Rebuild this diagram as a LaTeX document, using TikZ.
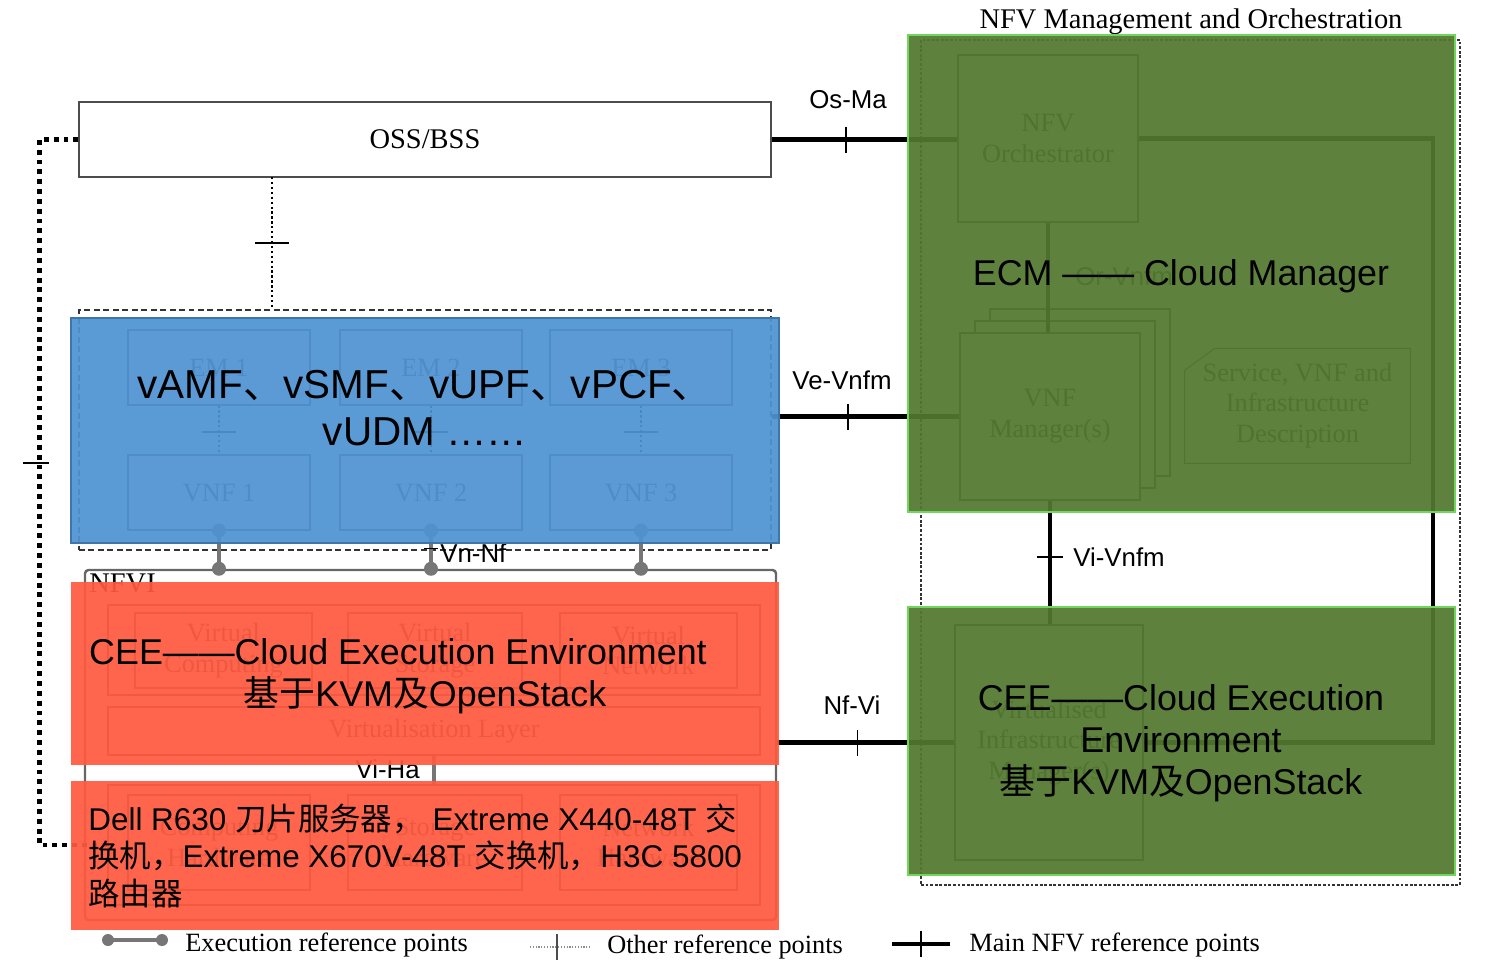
\documentclass[tikz,border=0pt]{standalone}
\usepackage{fontspec}
\setmainfont{Liberation Serif}
\setsansfont{Liberation Sans}
\newfontfamily\cjk{Noto Sans CJK SC}

\definecolor{vnfblue}{RGB}{79,147,210}
\definecolor{vnfedge}{RGB}{62,118,170}
\definecolor{ceered}{RGB}{255,90,64}
\definecolor{mgmtgreen}{RGB}{82,121,47}
\definecolor{mgmtedge}{RGB}{112,214,92}
\definecolor{execgray}{RGB}{118,118,118}

\newcommand\titlefont{\rmfamily\fontsize{16.2}{19}\selectfont}
\newcommand\faintfont{\rmfamily\fontsize{15}{17.5}\selectfont}
\newcommand\reffont{\sffamily\fontsize{14.7}{17}\selectfont}
\newcommand\bigfont{\sffamily\fontsize{20.4}{23.9}\selectfont}
\newcommand\vnffont{\sffamily\fontsize{23}{26.6}\selectfont}
\newcommand\hwfont{\sffamily\fontsize{17.9}{21.5}\selectfont}

\begin{document}
\begin{tikzpicture}[
    x=0.02cm, y=-0.02cm,
    every node/.style={inner sep=0pt},
    boxsize/.style 2 args={minimum width=#1*0.02cm, minimum height=#2*0.02cm},
    ossbox/.style={draw=black!70, line width=0.8pt, fill=white, font=\titlefont},
    faintbox/.style={draw=black!70, line width=0.6pt, fill=white, align=center, font=\faintfont, text=black!80},
    vnfframe/.style={draw=black!80, line width=0.8pt, dash pattern=on 3.4pt off 2pt},
    manoframe/.style={draw=black!80, line width=0.8pt, dash pattern=on 1.6pt off 1pt},
    nfvibox/.style={draw=black!60, line width=1.4pt, rounded corners=2pt},
    cover/.style={fill opacity=0.93},
    mainref/.style={line width=2.3pt},
    otherref/.style={line width=1.3pt, dash pattern=on 1.3pt off 1.5pt},
    bigdots/.style={line width=2.7pt, dash pattern=on 2.8pt off 2.8pt},
    execref/.style={draw=execgray, line width=2.2pt},
    execdot/.style={fill=execgray},
    tickmark/.style={line width=0.8pt},
    reflabel/.style={font=\reffont},
    legendtext/.style={font=\faintfont, anchor=base west}
  ]
  \useasboundingbox (0,0) rectangle (1491,970);

  % the ETSI reference architecture underneath
  \node[manoframe, boxsize={539}{845}] (mano) at (1190.5,462.5) {};
  \node[font=\titlefont, anchor=base] (manotitle) at (1191,29) {NFV Management and Orchestration};
  \node[ossbox, boxsize={692}{75}] (oss) at (425,139.5) {OSS/BSS};
  \node[faintbox, boxsize={180}{167}] (orch) at (1048,138.5) {NFV\\Orchestrator};
  \node[faintbox, boxsize={180}{167}] (vnfmC) at (1080,392.5) {};
  \node[faintbox, boxsize={180}{167}] (vnfmB) at (1065,404.5) {};
  \node[faintbox, boxsize={180}{167}] (vnfm) at (1050,416.5) {VNF\\Manager(s)};
  \node[align=center, font=\faintfont, text=black!80, boxsize={225}{115}] (desc) at (1297.5,405.5) {Service, VNF and\\Infrastructure\\Description};
  \draw[draw=black!70, line width=0.6pt] (desc.south west) -- ++(0,-93) -- ++(30,-22) -| (desc.south east) -- cycle;
  \node[faintbox, boxsize={188}{235}] (vim) at (1049,742.5) {Virtualised\\Infrastructure\\Manager(s)};

  \node[vnfframe, boxsize={692}{240}] (vnflayer) at (425,430) {};
  \foreach \i/\x in {1/128, 2/340, 3/550} {
    \node[faintbox, boxsize={182}{75}] (em\i) at (\x+91,367.5) {EM \i};
    \node[faintbox, boxsize={182}{75}] (vnf\i) at (\x+91,492.5) {VNF \i};
    \draw[otherref] (em\i.south) -- (vnf\i.north) coordinate[pos=0.54] (emtick\i);
    \draw[tickmark] (emtick\i) ++(-17,0) -- ++(34,0);
  }

  \node[nfvibox, boxsize={691}{350}] (nfvi) at (430.5,745) {};
  \node[font=\titlefont, anchor=north west] (nfvilabel) at (89,574) {NFVI};
  \node[faintbox, boxsize={652}{90}] (virtres) at (434,650) {};
  \node[faintbox, boxsize={177}{75}] (vcomp) at (223.5,650.5) {Virtual\\Computing};
  \node[faintbox, boxsize={174}{75}] (vstor) at (435,650.5) {Virtual\\Storage};
  \node[faintbox, boxsize={177}{75}] (vnet) at (648.5,650.5) {Virtual\\Network};
  \node[faintbox, boxsize={652}{48}] (vlayer) at (434,731) {Virtualisation Layer};
  \node[faintbox, boxsize={652}{120}] (hwres) at (434,845) {};
  \node[faintbox, boxsize={182}{95}] (hcomp) at (219,842.5) {Computing\\Hardware};
  \node[faintbox, boxsize={174}{95}] (hstor) at (435,842.5) {Storage\\Hardware};
  \node[faintbox, boxsize={177}{95}] (hnet) at (648.5,842.5) {Network\\Hardware};
  \draw[execref] (vlayer.south) -- (hwres.north);
  \node[reflabel, anchor=base east] (vihalabel) at (420,778) {Vi-Ha};

  % execution reference points
  \foreach \i in {1,2,3} {
    \draw[execref] (vnf\i.south) -- (vnf\i.south |- nfvi.north) coordinate (vnnf\i);
    \fill[execdot] (vnf\i.south) circle (0.14cm);
    \fill[execdot] (vnnf\i) circle (0.14cm);
  }
  \draw[tickmark] (vnf2.south) ++(-7,18) -- ++(14,0);
  \node[reflabel, anchor=base west] (vnnflabel) at (440,562) {Vn-Nf};

  % main reference points
  \draw[mainref] (oss.east) -- (oss.east -| orch.west) coordinate[pos=0.4] (osma);
  \draw[tickmark] (osma) ++(0,-13) -- ++(0,26);
  \node[reflabel, anchor=base] (osmalabel) at (848,108) {Os-Ma};
  \draw[mainref] (orch.south) -- (orch.south |- vnfm.north);
  \node[reflabel, anchor=base west, text=black!80] (orvnfmlabel) at (1075,285) {Or-Vnfm};
  \draw[mainref] (orch.east) -- ++(294,0) |- (vim.east);
  \draw[mainref] (vnflayer.east |- vnfm.west) -- (vnfm.west) coordinate[pos=0.407] (vevnfm);
  \draw[tickmark] (vevnfm) ++(0,-13) -- ++(0,26);
  \node[reflabel, anchor=base] (vevnfmlabel) at (842,389) {Ve-Vnfm};
  \draw[mainref] (vnfm.south) -- (vnfm.south |- vim.north) coordinate[pos=0.456] (vivnfm);
  \draw[tickmark] (vivnfm) ++(-13,0) -- ++(26,0);
  \node[reflabel, anchor=base west] (vivnfmlabel) at (1073,566) {Vi-Vnfm};
  \draw[mainref] (nfvi.east |- vim.west) -- (vim.west) coordinate[pos=0.452] (nfvitick);
  \draw[tickmark] (nfvitick) ++(0,-13) -- ++(0,26);
  \node[reflabel, anchor=base] (nfvilabel2) at (852,714) {Nf-Vi};

  % other reference points
  \coordinate (ossfoot) at (272,177);
  \draw[otherref] (ossfoot) -- (ossfoot |- vnflayer.north) coordinate[pos=0.5] (osvnf);
  \draw[line width=1.2pt] (osvnf) ++(-17,0) -- ++(34,0);
  \draw[bigdots] (oss.west) -- ++(-39,0) |- (hwres.west);
  \coordinate (leftref) at (40,463);
  \draw[tickmark] (leftref) ++(-17,0) -- ++(26,0);

  % coloured covers
  \node[cover, fill=vnfblue, draw=vnfedge, line width=0.6pt, boxsize={708}{225}] (vnfcover) at (425,430.5) {};
  \node[cover, fill=ceered, boxsize={708}{183}] (ceecover) at (425,673.5) {};
  \node[cover, fill=ceered, boxsize={708}{149}] (hwcover) at (425,855.5) {};
  \node[cover, fill=mgmtgreen, draw=mgmtedge, line width=1pt, boxsize={547}{477}] (ecmcover) at (1181.5,273.5) {};
  \node[cover, fill=mgmtgreen, draw=mgmtedge, line width=1pt, boxsize={547}{268}] (vimcover) at (1181.5,741) {};

  \node[font=\vnffont, align=center, anchor=north] (vnftext) at (425,370)
    {vAMF{\cjk 、}vSMF{\cjk 、}vUPF{\cjk 、}vPCF{\cjk 、}\\vUDM ……};
  \node[font=\bigfont, align=center, anchor=north] (ceetext) at (425,638)
    {CEE——Cloud Execution Environment\hspace*{1.08cm}\\{\cjk 基于}KVM{\cjk 及}OpenStack};
  \node[font=\hwfont, align=left, anchor=north west] (hwtext) at (88,803)
    {Dell R630 {\cjk 刀片服务器，} Extreme X440-48T {\cjk 交}\\{\cjk 换机，}Extreme X670V-48T {\cjk 交换机，}H3C 5800\\{\cjk 路由器}};
  \node[font=\bigfont, anchor=base] (ecmtext) at (1181,285) {ECM —— Cloud Manager};
  \node[font=\bigfont, align=center, anchor=north] (ceemgmttext) at (1181,684)
    {CEE——Cloud Execution\\Environment\\{\cjk 基于}KVM{\cjk 及}OpenStack};

  % legend
  \coordinate (exA) at (108,940);
  \coordinate (exB) at (162,940);
  \draw[execref] (exA) -- (exB);
  \fill[execdot] (exA) circle (0.12cm);
  \fill[execdot] (exB) circle (0.12cm);
  \node[legendtext] (exlegend) at (185,951) {Execution reference points};
  \coordinate (otA) at (530,947);
  \coordinate (otB) at (590,947);
  \draw[draw=black!45, line width=0.7pt, dash pattern=on 0.7pt off 0.9pt] (otA) -- (otB) coordinate[pos=0.45] (otT);
  \draw[tickmark, draw=black!70] (otT) ++(0,-13) -- ++(0,26);
  \node[legendtext] (otlegend) at (607,953) {Other reference points};
  \coordinate (mnA) at (892,944);
  \coordinate (mnB) at (950,944);
  \draw[mainref] (mnA) -- (mnB) coordinate[pos=0.5] (mnT);
  \draw[line width=1.6pt] (mnT) ++(0,-13) -- ++(0,26);
  \node[legendtext] (mnlegend) at (969,951) {Main NFV reference points};
\end{tikzpicture}
\end{document}
